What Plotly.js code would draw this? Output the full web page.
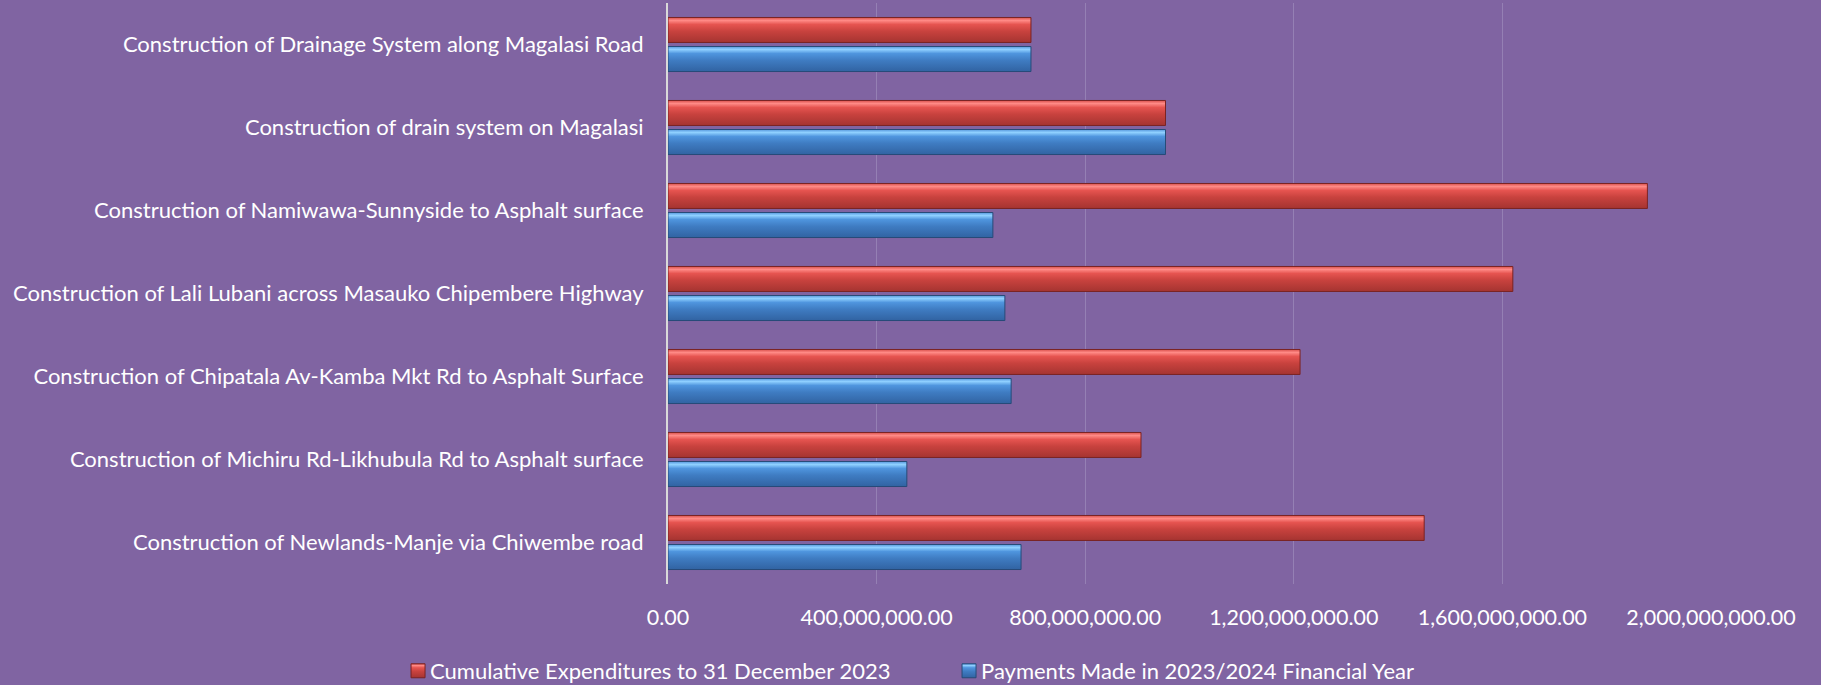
<!DOCTYPE html>
<html>
<head>
<meta charset="utf-8">
<script src="https://cdn.plot.ly/plotly-3.0.1.min.js"></script>
<style>
  html, body { margin: 0; padding: 0; background: #8064A2; }
  #chart { width: 1821px; height: 685px; }
</style>
</head>
<body>
<div id="chart"></div>
<script>
// Categories listed bottom to top (as drawn)
const categories = [
  "Construction of Newlands-Manje via Chiwembe road",
  "Construction of Michiru Rd-Likhubula Rd to Asphalt surface",
  "Construction of Chipatala Av-Kamba Mkt Rd to Asphalt Surface",
  "Construction of Lali Lubani across Masauko Chipembere Highway",
  "Construction of Namiwawa-Sunnyside to Asphalt surface",
  "Construction of drain system on Magalasi",
  "Construction of Drainage System along Magalasi Road"
];
const cumulativeExpenditures = [1450000000, 907000000, 1212000000, 1620000000, 1878000000, 954000000, 696000000];
const paymentsMade = [677000000, 458000000, 658000000, 646000000, 623000000, 954000000, 696000000];
const seriesNames = ["Cumulative Expenditures to 31 December 2023", "Payments Made in 2023/2024 Financial Year"];
const xTicks = [0, 400000000, 800000000, 1200000000, 1600000000, 2000000000];

const FONT = "Lato, 'Open Sans', sans-serif";
const RED = "#C8453F";
const BLUE = "#4682C8";

const data = [
  {
    type: "bar", orientation: "h",
    name: seriesNames[1],
    y: categories, x: paymentsMade,
    marker: { color: BLUE, line: { color: "#274B78", width: 1 } },
    legendrank: 2
  },
  {
    type: "bar", orientation: "h",
    name: seriesNames[0],
    y: categories, x: cumulativeExpenditures,
    marker: { color: RED, line: { color: "#7A2323", width: 1 } },
    legendrank: 1
  }
];

const layout = {
  width: 1821, height: 685,
  paper_bgcolor: "#8064A2",
  plot_bgcolor: "#8064A2",
  margin: { l: 668, r: 110, t: 3, b: 101, autoexpand: false },
  barmode: "group",
  bargap: 0.30,
  bargroupgap: 0.14,
  font: { family: FONT, color: "#FFFFFF", size: 22 },
  xaxis: {
    range: [0, 2000000000],
    tickvals: xTicks,
    tickformat: ",.2f",
    showgrid: true,
    gridcolor: "#9580B4",
    gridwidth: 1,
    zeroline: false,
    showline: false,
    ticks: "",
    ticklabelstandoff: 18,
    tickfont: { family: FONT, size: 21.5, color: "#FFFFFF" }
  },
  yaxis: {
    type: "category",
    showgrid: false,
    zeroline: false,
    showline: true,
    linecolor: "#D9D9D9",
    linewidth: 2,
    ticks: "",
    ticklabelstandoff: 18,
    tickfont: { family: FONT, size: 22, color: "#FFFFFF" }
  },
  legend: {
    orientation: "h",
    x: -0.2665, xanchor: "left",
    y: -0.1497, yanchor: "middle",
    font: { family: FONT, size: 22, color: "#FFFFFF" },
    bgcolor: "rgba(0,0,0,0)",
    itemwidth: 30,
    entrywidth: 506,
    entrywidthmode: "pixels"
  },
  showlegend: true
};

function addGradients(gd) {
  const svg = gd.querySelector("svg.main-svg");
  if (!svg) return;
  let defs = svg.querySelector("defs");
  const NS = "http://www.w3.org/2000/svg";
  if (!defs) { defs = document.createElementNS(NS, "defs"); svg.insertBefore(defs, svg.firstChild); }
  function grad(id, stops) {
    const g = document.createElementNS(NS, "linearGradient");
    g.setAttribute("id", id);
    g.setAttribute("x1", "0"); g.setAttribute("y1", "0");
    g.setAttribute("x2", "0"); g.setAttribute("y2", "1");
    stops.forEach(s => {
      const st = document.createElementNS(NS, "stop");
      st.setAttribute("offset", s[0]);
      st.setAttribute("stop-color", s[1]);
      g.appendChild(st);
    });
    defs.appendChild(g);
  }
  grad("gradRed", [["0%", "#D9504C"], ["12%", "#FF8A86"], ["28%", "#E65450"], ["55%", "#C8423E"], ["100%", "#A53431"]]);
  grad("gradBlue", [["0%", "#5A9BE0"], ["12%", "#8FD0FF"], ["28%", "#4F95DE"], ["55%", "#3F7CC2"], ["100%", "#3163A2"]]);
  const traces = gd.querySelectorAll(".barlayer .trace");
  traces.forEach((tr, i) => {
    const id = i === 0 ? "gradBlue" : "gradRed";
    tr.querySelectorAll("path").forEach(p => { p.style.fill = "url(#" + id + ")"; });
  });
  gd.querySelectorAll(".legend .traces").forEach(t => {
    const txt = t.querySelector(".legendtext");
    const id = txt && txt.textContent.indexOf("Payments") === 0 ? "gradBlue" : "gradRed";
    t.querySelectorAll(".legendpoints path").forEach(p => {
      p.style.fill = "url(#" + id + ")";
      p.setAttribute("d", "M7,7H-7V-7H7Z");
    });
    t.querySelectorAll(".legendpoints").forEach(g => g.setAttribute("transform", "translate(8,0)"));
  });
}

Plotly.newPlot("chart", data, layout, { staticPlot: true, displayModeBar: false }).then(addGradients);
</script>
</body>
</html>
